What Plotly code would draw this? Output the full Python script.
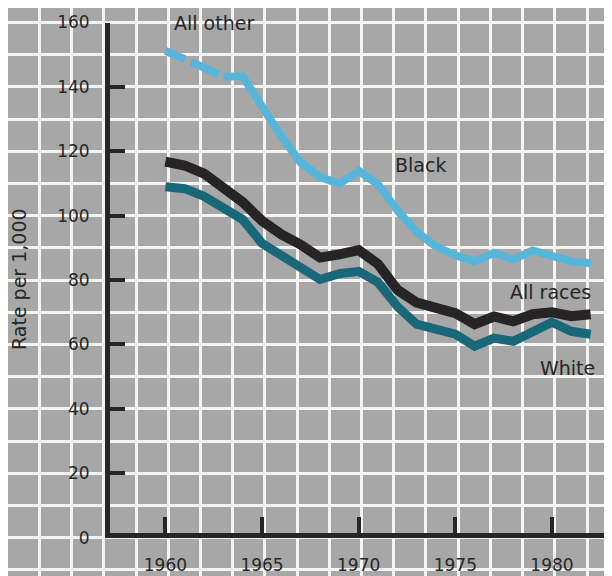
import plotly.graph_objects as go

# Rate per 1,000
years = list(range(1960, 1983))
all_other_years = [1960, 1961, 1962, 1963]
all_other = [151.2, 148.9, 146.0, 143.2]
black_years = list(range(1963, 1983))
black = [143.2, 143.2, 133.9, 124.6, 116.5, 112.0, 110.0, 113.9, 109.7, 101.6,
         95.0, 90.4, 87.7, 85.8, 88.5, 86.4, 89.2, 87.7, 85.8, 85.2]
all_races = [116.8, 115.6, 113.1, 108.8, 104.2, 98.4, 94.2, 91.0, 87.0, 88.0,
             89.3, 85.0, 77.0, 73.0, 71.1, 69.7, 66.3, 68.7, 67.2, 69.4,
             70.0, 68.8, 69.4]
white = [109.0, 108.4, 106.0, 102.5, 98.8, 91.4, 87.6, 83.9, 80.2, 82.0,
         82.7, 79.3, 71.8, 66.3, 64.7, 63.2, 59.5, 62.0, 61.0, 63.8,
         66.9, 64.1, 63.2]

x_ticks = [1960, 1965, 1970, 1975, 1980]
y_ticks = [0, 20, 40, 60, 80, 100, 120, 140, 160]

BG = "#a7a7a7"
GRID = "#f4f4f2"
INK = "#262626"
FONT = "DejaVu Sans, Verdana, sans-serif"

fig = go.Figure()

# empty trace so the full-page grid subplot (x/y) gets drawn underneath
fig.add_trace(go.Scatter(x=[], y=[], xaxis="x", yaxis="y", showlegend=False, hoverinfo="skip"))

# data traces live on x2/y2 so they sit above the background grid
fig.add_trace(go.Scatter(x=all_other_years, y=all_other, mode="lines",
                         line=dict(color="#58b5da", width=8, dash="21px,7px,30px,6px"),
                         xaxis="x2", yaxis="y2", name="All other"))
fig.add_trace(go.Scatter(x=black_years, y=black, mode="lines",
                         line=dict(color="#58b5da", width=8),
                         xaxis="x2", yaxis="y2", name="Black"))
fig.add_trace(go.Scatter(x=years, y=all_races, mode="lines",
                         line=dict(color="#262424", width=10),
                         xaxis="x2", yaxis="y2", name="All races"))
fig.add_trace(go.Scatter(x=years, y=white, mode="lines",
                         line=dict(color="#18687a", width=9),
                         xaxis="x2", yaxis="y2", name="White"))

labels = [
    ("All other", 1960.33, 159.8),
    ("Black", 1971.78, 115.7),
    ("All races", 1977.70, 76.4),
    ("White", 1979.27, 52.7),
]
for text, x, y in labels:
    fig.add_annotation(text=text, x=x, y=y, xref="x2", yref="y2",
                       xanchor="left", yanchor="middle", showarrow=False,
                       font=dict(family=FONT, size=19, color=INK))

fig.add_annotation(text="Rate per 1,000", x=0.018, y=0.5295, xref="paper", yref="paper",
                   xanchor="center", yanchor="middle", showarrow=False, textangle=-90,
                   font=dict(family=FONT, size=19, color=INK))

fig.update_layout(
    width=612, height=576,
    margin=dict(l=0, r=0, t=0, b=0),
    paper_bgcolor=BG,
    plot_bgcolor="rgba(0,0,0,0)",
    showlegend=False,
    # background grid covering the whole page
    xaxis=dict(domain=[0, 1], range=[1951.86, 1983.52], tick0=1960.15, dtick=5 / 3,
               showgrid=True, gridcolor=GRID, gridwidth=3, showticklabels=False,
               zeroline=False, showline=False, ticks="", automargin=False),
    yaxis=dict(domain=[0, 1], range=[-14.38, 164.5], tick0=0, dtick=10,
               showgrid=True, gridcolor=GRID, gridwidth=3, showticklabels=False,
               zeroline=False, showline=False, ticks="", automargin=False),
    # data axes
    xaxis2=dict(domain=[0.1618, 1], range=[1956.98, 1983.52], anchor="free", position=0.0847,
                tickvals=x_ticks, ticks="inside", ticklen=16, tickwidth=4, tickcolor=INK,
                showline=True, linewidth=5, linecolor=INK, showgrid=False, zeroline=False,
                automargin=False, ticklabelstandoff=12,
                tickfont=dict(family=FONT, size=17, color=INK)),
    yaxis2=dict(domain=[0.0804, 0.9748], range=[0, 160], anchor="free", position=0.1618,
                tickvals=y_ticks, ticks="inside", ticklen=15, tickwidth=4, tickcolor=INK,
                showline=True, linewidth=5, linecolor=INK, showgrid=False, zeroline=False,
                automargin=False, ticklabelstandoff=12,
                tickfont=dict(family=FONT, size=17, color=INK)),
)

fig.write_html("out.html")
